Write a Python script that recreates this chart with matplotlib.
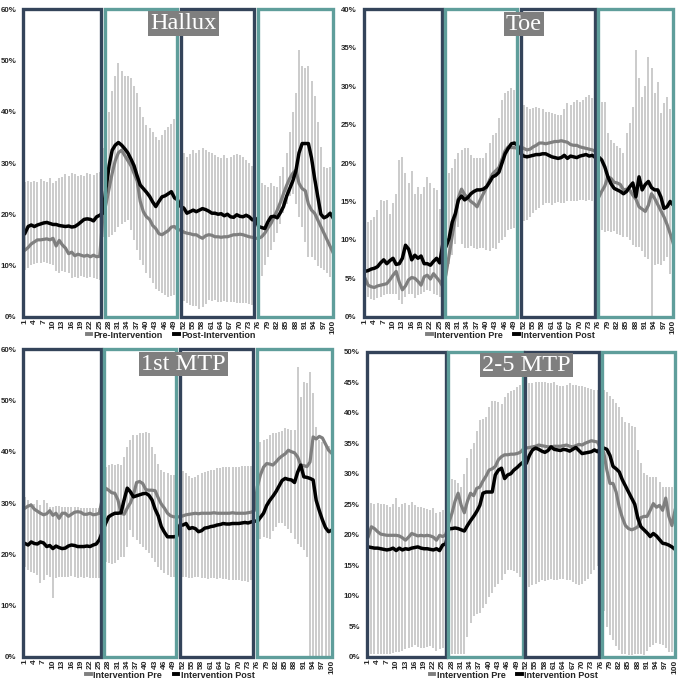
import matplotlib
matplotlib.use("Agg")
import matplotlib.pyplot as plt
from matplotlib.patches import Rectangle
from matplotlib.lines import Line2D

plt.rcParams['font.family'] = ['Liberation Sans Narrow', 'Liberation Sans', 'DejaVu Sans']

x = list(range(1, 101))
xticks = list(range(1, 101, 3))

# ---- Hallux ----
hallux_pre = [13.0, 13.5, 14.2, 14.6, 15.0, 15.0, 15.1, 15.2, 15.0, 15.3, 13.8, 14.9, 14.0, 13.4, 12.3, 12.6, 11.9, 12.2, 12.0, 11.8, 12.0, 11.7, 12.0, 11.7, 11.8,
              19.5, 22.0, 25.0, 28.0, 30.5, 32.0, 32.5, 31.5, 30.5, 29.5, 28.0, 26.5, 22.5, 20.5, 19.5, 19.0, 17.8, 17.2, 16.2, 16.0, 16.4, 16.8, 17.5, 17.6, 17.0,
              16.9, 16.5, 16.3, 16.2, 16.0, 16.0, 15.6, 15.3, 15.8, 16.0, 15.9, 15.6, 15.6, 15.5, 15.6, 15.6, 15.8, 16.0, 16.0, 16.1, 16.0, 15.8, 15.6, 15.5, 15.3,
              15.3, 15.6, 16.3, 17.3, 18.2, 19.5, 20.8, 22.3, 24.0, 25.6, 27.0, 28.0, 28.6, 26.0, 25.0, 24.6, 22.0, 20.8, 20.2, 18.9, 17.6, 16.3, 15.0, 13.7, 12.4]
hallux_post = [16.3, 17.6, 17.9, 17.6, 17.9, 18.1, 18.3, 18.4, 18.2, 18.0, 18.0, 17.8, 17.7, 17.6, 17.7, 17.5, 17.6, 18.0, 18.5, 19.0, 19.1, 19.0, 18.7, 19.5, 19.8,
               20.2, 25.0, 29.5, 32.5, 33.5, 34.0, 33.5, 32.8, 32.0, 30.8, 29.5, 27.5, 25.7, 25.0, 24.3, 23.5, 22.4, 21.5, 22.5, 23.4, 23.6, 24.0, 24.4, 23.2, 22.8,
               21.5, 21.2, 20.2, 20.5, 20.8, 20.5, 20.8, 21.1, 20.9, 20.6, 20.2, 20.2, 20.0, 20.1, 19.7, 20.0, 19.5, 19.4, 19.9, 19.6, 19.5, 19.8, 19.5, 18.9, 19.2,
               17.6, 17.4, 17.2, 18.5, 19.5, 19.6, 19.3, 20.3, 21.5, 23.5, 25.0, 26.5, 28.5, 32.0, 33.8, 33.8, 33.8, 31.0, 27.0, 23.5, 20.0, 19.3, 19.6, 20.2, 19.2]
hallux_lo = [9.1, 9.5, 10.0, 10.3, 10.4, 10.5, 10.6, 10.4, 10.2, 10.0, 9.0, 8.5, 9.0, 8.8, 8.5, 7.5, 7.8, 7.5, 8.0, 7.8, 7.5, 7.8, 7.5, 7.3, 7.2,
             15.5, 15.6, 15.6, 16.0, 16.5, 17.5, 18.0, 18.5, 18.9, 17.0, 15.0, 13.0, 11.0, 10.0, 8.5, 7.5, 6.5, 5.5, 5.0, 4.6, 4.2, 3.9, 4.0, 4.2, 4.6,
             3.9, 3.0, 2.6, 2.3, 2.0, 2.0, 1.6, 1.8, 2.5, 3.3, 3.0, 3.2, 2.9, 2.9, 3.0, 2.9, 2.9, 2.8, 2.7, 2.6, 2.6, 2.6, 2.4, 2.2, 2.0,
             6.5, 8.0, 10.0, 11.7, 13.0, 14.5, 16.3, 18.0, 20.2, 22.0, 23.5, 24.0, 22.0, 19.5, 17.6, 14.5, 11.7, 11.7, 11.0, 9.8, 9.5, 9.1, 8.5, 7.8, 7.2]
hallux_hi = [26.3, 26.4, 26.3, 26.5, 26.2, 26.8, 26.5, 26.2, 27.0, 26.0, 26.5, 27.0, 27.3, 27.8, 27.5, 28.0, 27.8, 27.5, 27.6, 27.5, 28.0, 27.8, 27.6, 28.0, 28.2,
             33.0, 38.0, 40.0, 44.0, 47.0, 49.5, 48.0, 47.0, 47.0, 46.5, 45.0, 43.6, 41.0, 39.0, 37.5, 36.8, 36.0, 35.0, 34.5, 35.5, 36.4, 37.0, 37.7, 38.5, 38.0,
             33.0, 32.0, 31.2, 31.8, 32.5, 32.0, 32.5, 33.0, 32.5, 32.2, 32.0, 31.5, 31.2, 31.0, 31.5, 31.0, 31.2, 31.5, 31.8, 31.5, 31.2, 30.5, 30.0, 29.5, 29.3,
             26.3, 26.0, 25.7, 25.4, 26.0, 25.5, 25.4, 27.5, 29.3, 32.0, 36.0, 40.0, 43.6, 52.0, 49.0, 48.5, 49.0, 46.0, 43.0, 38.0, 33.2, 29.3, 29.0, 29.3, 30.9]

# ---- Toe ----
toe_pre = [5.0, 4.1, 3.9, 3.8, 4.0, 4.1, 4.2, 4.3, 4.8, 5.4, 5.9, 4.5, 3.5, 4.0, 4.8, 5.1, 5.0, 4.6, 4.1, 5.2, 5.4, 4.9, 5.6, 5.1, 4.6,
           3.9, 5.5, 8.0, 10.5, 13.0, 15.5, 16.6, 15.9, 15.4, 15.0, 14.7, 14.3, 15.2, 16.0, 16.8, 17.8, 18.6, 19.0, 19.4, 20.5, 21.6, 22.1, 22.0, 22.0, 21.9,
           22.1, 21.9, 21.7, 21.8, 22.1, 22.3, 22.6, 22.6, 22.5, 22.6, 22.7, 22.8, 22.8, 22.9, 22.8, 22.7, 22.4, 22.3, 22.3, 22.1, 22.0, 21.9, 21.8, 21.7, 21.5,
           15.5, 16.3, 17.0, 18.2, 18.0, 17.5, 17.4, 17.2, 16.5, 16.6, 16.5, 15.8, 15.3, 14.3, 14.0, 13.7, 14.5, 16.0, 15.4, 14.6, 13.8, 13.0, 12.0, 10.8, 9.5]
toe_post = [5.9, 6.0, 6.2, 6.3, 6.5, 7.0, 7.4, 6.9, 7.3, 7.6, 6.8, 6.9, 7.6, 9.3, 8.8, 7.4, 8.0, 7.6, 7.9, 6.9, 6.9, 6.7, 7.2, 7.6, 7.0,
            9.5, 9.1, 10.2, 12.3, 13.4, 15.2, 15.7, 15.2, 15.5, 16.0, 16.3, 16.5, 16.5, 16.6, 16.9, 17.5, 18.2, 18.4, 18.8, 20.0, 21.2, 21.9, 22.5, 22.6, 22.3,
            21.2, 20.9, 20.8, 20.9, 21.0, 21.1, 21.1, 21.2, 21.2, 21.0, 20.8, 20.7, 20.6, 20.7, 21.0, 20.6, 20.9, 20.8, 20.7, 20.9, 21.0, 21.1, 20.9, 21.0, 20.7,
            20.8, 20.4, 19.5, 18.2, 17.3, 16.7, 16.5, 16.3, 16.0, 16.3, 16.9, 17.4, 15.6, 18.2, 16.5, 17.2, 17.6, 16.8, 16.5, 16.5, 15.6, 14.1, 14.3, 15.0, 14.5]
toe_lo = [2.6, 2.5, 2.3, 2.2, 2.4, 2.6, 2.8, 3.0, 3.0, 3.0, 3.0, 2.2, 1.7, 2.5, 3.0, 3.0, 2.4, 2.8, 3.0, 3.2, 3.5, 3.3, 3.0, 2.8, 2.6,
          3.0, 4.0, 6.9, 8.0, 9.5, 11.7, 9.5, 8.9, 9.0, 9.2, 8.9, 8.8, 8.9, 8.9, 8.7, 8.5, 8.9, 8.8, 9.6, 10.0, 10.4, 11.3, 11.4, 11.5, 11.5,
          13.0, 12.4, 12.6, 13.0, 13.5, 13.9, 14.2, 14.5, 14.8, 14.8, 14.5, 14.8, 14.9, 14.8, 14.8, 15.0, 15.0, 15.0, 15.0, 15.2, 15.2, 15.0, 15.2, 15.1, 15.0,
          13.4, 11.3, 11.0, 11.2, 11.0, 11.2, 10.8, 10.6, 10.4, 10.4, 10.0, 9.3, 9.1, 9.1, 8.5, 7.8, 7.5, 0.0, 6.7, 6.9, 6.7, 7.2, 7.8, 5.6, 5.2]
toe_hi = [11.7, 12.3, 12.6, 13.0, 13.9, 15.2, 15.0, 15.2, 13.4, 14.8, 16.0, 20.4, 20.8, 18.7, 17.4, 18.9, 16.0, 16.9, 16.0, 16.9, 18.2, 17.4, 16.7, 16.5, 14.0,
          17.0, 17.8, 18.7, 19.3, 20.5, 21.3, 21.7, 21.9, 21.9, 21.0, 20.6, 20.6, 20.6, 20.6, 21.3, 22.6, 23.6, 23.9, 25.8, 28.2, 29.1, 29.4, 29.7, 29.5, 29.7,
          27.8, 27.6, 27.3, 27.0, 27.1, 27.3, 27.2, 27.0, 26.7, 26.7, 26.5, 26.4, 26.2, 26.3, 27.0, 27.8, 27.6, 28.0, 28.2, 28.0, 28.2, 28.6, 28.9, 28.4, 27.8,
          28.4, 28.0, 28.0, 23.9, 23.0, 22.6, 22.2, 21.9, 21.3, 23.9, 25.2, 27.3, 34.7, 31.0, 28.6, 30.0, 33.8, 32.3, 29.1, 30.6, 26.5, 27.8, 28.6, 27.0, 26.9]

# ---- 1st MTP ----
mtp1_pre = [29.0, 29.4, 29.6, 28.8, 28.4, 28.0, 27.7, 27.9, 28.5, 27.6, 28.0, 27.0, 28.0, 28.0, 27.4, 27.8, 28.2, 28.3, 28.2, 27.8, 27.8, 28.0, 27.7, 27.8, 28.0,
            31.0, 32.9, 32.5, 32.0, 31.9, 30.6, 28.0, 27.8, 29.0, 30.0, 31.5, 34.0, 34.2, 33.8, 32.6, 32.5, 32.5, 32.4, 31.0, 29.8, 29.0, 28.0, 27.5, 27.3, 27.3,
            27.3, 27.5, 27.7, 27.8, 27.9, 28.0, 27.9, 28.0, 28.0, 28.0, 28.0, 28.1, 28.0, 28.0, 28.0, 28.0, 28.0, 28.1, 28.0, 28.0, 28.0, 28.0, 28.1, 28.2, 28.5,
            33.2, 35.5, 37.0, 37.7, 37.6, 37.4, 38.0, 38.7, 39.2, 39.6, 40.3, 40.0, 39.8, 39.0, 37.4, 37.3, 37.1, 38.0, 42.9, 42.5, 43.0, 42.7, 41.5, 40.3, 39.7]
mtp1_post = [22.1, 21.8, 22.4, 22.1, 22.0, 22.4, 22.2, 21.5, 21.7, 21.1, 21.6, 21.3, 21.1, 21.2, 21.6, 21.8, 21.7, 21.5, 21.5, 21.5, 21.6, 21.5, 21.8, 22.0, 22.8,
             24.4, 26.0, 27.3, 27.7, 28.0, 28.0, 28.1, 30.6, 32.9, 32.2, 31.2, 31.4, 31.6, 31.8, 31.9, 31.5, 30.6, 28.8, 27.5, 25.4, 24.3, 23.4, 23.4, 23.4, 23.5,
             25.7, 25.7, 26.0, 25.0, 25.2, 25.0, 24.4, 24.6, 25.1, 25.2, 25.4, 25.5, 25.7, 25.8, 26.0, 25.9, 25.9, 26.0, 26.0, 26.0, 26.1, 26.2, 26.1, 26.3, 26.5,
             26.4, 27.2, 28.0, 29.5, 30.5, 31.3, 32.2, 33.3, 34.4, 34.8, 34.6, 34.5, 34.0, 36.0, 37.4, 35.1, 35.0, 34.8, 34.5, 30.5, 28.5, 26.7, 25.2, 24.4, 24.7]
mtp1_lo = [17.6, 17.0, 16.6, 16.3, 16.0, 14.3, 15.0, 16.0, 15.5, 11.4, 15.3, 15.5, 15.6, 15.5, 15.5, 15.8, 15.5, 15.4, 15.5, 15.4, 15.5, 15.4, 15.3, 15.3, 15.3,
           18.9, 18.5, 18.2, 18.0, 18.2, 18.9, 19.5, 19.5, 21.5, 24.7, 23.4, 22.8, 22.0, 21.5, 20.8, 20.2, 19.3, 18.5, 17.6, 17.0, 16.3, 16.0, 15.6, 15.6, 15.6,
           15.6, 15.6, 15.5, 15.4, 15.3, 15.6, 15.5, 15.4, 15.3, 15.2, 15.3, 15.3, 15.2, 15.3, 15.1, 15.2, 15.0, 15.0, 14.9, 14.9, 14.8, 14.7, 14.6, 14.9, 15.6,
           22.8, 23.0, 23.4, 23.2, 23.0, 24.5, 25.4, 26.0, 26.0, 25.5, 25.0, 24.1, 23.0, 22.0, 21.5, 20.8, 19.5, 0.0, 0.0, 0.0, 0.0, 0.0, 0.0, 0.0, 0.0]
mtp1_hi = [31.2, 30.5, 30.0, 29.9, 30.5, 29.6, 30.6, 30.0, 29.3, 29.3, 29.5, 29.5, 29.3, 29.3, 29.3, 29.3, 29.2, 29.3, 29.0, 29.1, 29.0, 29.0, 29.0, 29.0, 29.0,
           35.8, 37.1, 37.5, 37.7, 37.5, 37.7, 37.5, 39.0, 41.0, 42.3, 43.3, 43.2, 43.6, 43.6, 43.9, 43.7, 41.0, 39.5, 37.7, 36.5, 36.1, 35.8, 35.5, 35.5, 35.5,
           36.4, 36.2, 35.8, 35.3, 34.8, 35.0, 35.5, 35.8, 36.1, 36.2, 36.4, 36.5, 36.8, 36.8, 37.0, 37.1, 37.0, 37.1, 37.1, 37.0, 37.2, 37.2, 37.2, 37.3, 37.4,
           41.6, 42.0, 42.3, 42.5, 43.3, 43.6, 43.7, 43.9, 44.0, 44.6, 44.4, 44.2, 44.2, 56.6, 50.7, 53.7, 53.5, 55.6, 51.4, 44.9, 42.3, 42.0, 41.6, 41.2, 41.0]

# ---- 2-5 MTP ----
mtp25_pre = [19.7, 21.3, 21.0, 20.5, 20.1, 20.0, 19.9, 19.9, 19.9, 19.9, 19.8, 19.5, 19.1, 19.6, 20.2, 20.0, 19.8, 19.9, 19.8, 19.9, 19.8, 19.6, 19.1, 19.9, 19.7,
             20.0, 22.0, 23.5, 25.5, 26.8, 24.8, 23.6, 25.5, 26.8, 26.4, 27.6, 27.8, 28.8, 29.6, 30.6, 30.8, 31.2, 32.3, 32.8, 33.1, 33.1, 33.2, 33.2, 33.3, 33.5,
             34.0, 34.2, 34.3, 34.4, 34.5, 34.7, 34.6, 34.5, 34.4, 34.4, 34.5, 34.5, 34.5, 34.6, 34.7, 34.5, 34.4, 34.6, 34.8, 34.7, 35.0, 35.2, 35.4, 35.3, 35.2,
             34.0, 33.5, 30.6, 28.4, 28.4, 27.0, 24.5, 22.8, 21.5, 21.0, 20.8, 21.0, 21.3, 22.8, 23.0, 23.0, 24.0, 25.1, 24.5, 24.8, 24.0, 26.0, 23.0, 21.5, 24.0]
mtp25_post = [18.0, 17.9, 17.8, 17.8, 17.7, 17.6, 17.5, 17.6, 17.8, 17.4, 17.8, 17.5, 17.7, 17.6, 17.8, 17.9, 18.0, 17.8, 17.7, 17.7, 17.6, 17.5, 17.7, 17.4, 18.3,
              18.5, 21.0, 21.0, 21.1, 21.0, 20.8, 20.6, 21.5, 22.3, 23.0, 23.8, 24.8, 26.8, 27.0, 27.0, 27.0, 29.8, 30.6, 30.9, 29.2, 29.8, 30.0, 30.6, 31.0, 31.5,
              31.9, 31.7, 33.0, 33.9, 34.2, 34.0, 33.7, 33.5, 33.8, 34.4, 34.0, 33.9, 33.8, 34.0, 33.9, 33.7, 34.0, 34.3, 33.8, 33.3, 33.4, 33.5, 33.6, 33.9, 33.6,
              34.2, 34.2, 34.0, 33.0, 31.2, 30.8, 30.3, 29.0, 28.0, 27.0, 26.0, 25.0, 22.7, 21.3, 20.8, 20.3, 19.7, 20.2, 19.8, 19.2, 18.6, 18.5, 18.3, 18.0, 17.6]
mtp25_lo = [0.5, 0.5, 0.5, 0.5, 0.5, 0.5, 0.5, 0.5, 0.6, 0.8, 0.8, 1.0, 1.2, 1.4, 1.6, 1.9, 1.6, 1.4, 1.5, 1.6, 1.7, 1.4, 1.0, 1.2, 1.4,
            0.5, 0.5, 0.5, 0.5, 0.5, 0.5, 0.5, 3.3, 5.5, 6.6, 7.0, 7.1, 8.0, 8.7, 9.8, 10.5, 11.5, 12.0, 12.6, 13.5, 14.2, 14.2, 14.0, 13.8, 13.1,
            13.7, 12.6, 11.5, 11.8, 12.0, 12.2, 12.5, 12.4, 12.6, 12.8, 12.5, 12.6, 12.8, 12.7, 12.6, 12.5, 12.3, 12.0, 11.7, 12.0, 12.4, 12.8, 13.5, 14.2, 14.8,
            10.9, 7.5, 4.9, 3.5, 2.7, 1.8, 1.1, 0.5, 0.4, 0.3, 0.3, 0.4, 0.5, 0.4, 0.3, 1.0, 1.6, 2.0, 2.2, 2.1, 1.9, 1.5, 0.8, 0.7, 4.9]
mtp25_hi = [25.7, 25.2, 25.1, 25.2, 25.0, 25.0, 24.8, 24.6, 25.0, 26.0, 24.6, 25.0, 25.2, 24.8, 25.3, 24.9, 24.5, 24.6, 24.3, 24.2, 24.0, 24.3, 23.5, 23.8, 24.0,
            27.0, 29.5, 29.2, 29.0, 28.5, 27.9, 30.0, 32.5, 34.0, 35.0, 37.0, 38.8, 39.0, 39.3, 41.0, 42.0, 42.0, 41.8, 41.5, 42.5, 43.2, 43.5, 43.7, 44.2, 44.5,
            44.3, 44.5, 44.8, 44.8, 45.0, 45.1, 45.1, 45.0, 44.9, 44.8, 45.0, 44.6, 44.3, 44.3, 44.6, 44.8, 44.5, 44.5, 44.3, 44.4, 44.2, 44.0, 43.9, 43.7, 43.7,
            44.3, 43.8, 43.4, 42.8, 42.3, 41.6, 41.0, 39.3, 38.5, 38.3, 37.9, 37.7, 33.9, 31.7, 30.1, 29.8, 29.5, 29.5, 29.5, 28.7, 27.9, 27.9, 27.9, 27.9, 26.9]

W, H = 685, 683
NAVY = '#34445a'
TEAL = '#5f9e9b'
PRE_C = '#7f7f7f'
BAR_C = '#cbcbcb'

# title, data, y max, y step, legend labels, pixel frame (x of pt 1, x of pt 100, y of 0, y of top), phase boxes, title centre
panels = [
    ("Hallux", hallux_pre, hallux_post, hallux_lo, hallux_hi, 60, 10,
     ("Pre-Intervention", "Post-Intervention"), (25, 333.3, 316.7, 9.3),
     [(0.46, 25.4), (26.7, 49.7), (51.0, 74.6), (75.7, 99.8)], (183.5, 23.7)),
    ("Toe", toe_pre, toe_post, toe_lo, toe_hi, 40, 5,
     ("Intervention Pre", "Intervention Post"), (365, 673.3, 316.7, 9.3),
     [(0.7, 25.6), (26.7, 49.9), (51.1, 74.9), (75.7, 100.0)], (524, 24)),
    ("1st MTP", mtp1_pre, mtp1_post, mtp1_lo, mtp1_hi, 60, 10,
     ("Intervention Pre", "Intervention Post"), (25, 331.7, 656.7, 349.3),
     [(0.46, 25.5), (26.6, 49.8), (51.1, 74.7), (76.0, 100.2)], (183.5, 364)),
    ("2-5 MTP", mtp25_pre, mtp25_post, mtp25_lo, mtp25_hi, 50, 5,
     ("Intervention Pre", "Intervention Post"), (368.3, 675, 656.7, 351.7),
     [(0.46, 26.1), (26.8, 50.8), (51.6, 75.5), (76.3, 100.0)], (526.5, 365)),
]

fig = plt.figure(figsize=(W / 100, H / 100), dpi=100)

for title, pre, post, lo, hi, ymax, ystep, labels, frame, boxes, tpos in panels:
    x1, x100, y0, ytop = frame
    ppt = (x100 - x1) / 99
    left = x1 - 0.7 * ppt
    right = x100 + 0.6 * ppt
    ax = fig.add_axes([left / W, 1 - y0 / H, (right - left) / W, (y0 - ytop) / H])
    ax.set_xlim(0.3, 100.6)
    ax.set_ylim(0, ymax)

    ax.vlines(x, lo, hi, color=BAR_C, lw=1.4, zorder=1)
    ax.plot(x, pre, color=PRE_C, lw=2.3, zorder=2, solid_joinstyle='round')
    ax.plot(x, post, color='black', lw=2.5, zorder=3, solid_joinstyle='round')

    for i, (a, b) in enumerate(boxes):
        ax.add_patch(Rectangle((a, 0), b - a, ymax, fill=False,
                               edgecolor=NAVY if i % 2 == 0 else TEAL,
                               lw=2.4, zorder=4, clip_on=False))

    for s in ax.spines.values():
        s.set_visible(False)
    yt = list(range(0, ymax + 1, ystep))
    ax.set_yticks(yt)
    ax.set_yticklabels([f"{v}%" for v in yt], fontsize=5.7, fontweight='bold', color='#262626')
    ax.set_xticks(xticks)
    ax.set_xticklabels([str(v) for v in xticks], rotation=90, fontsize=6,
                       fontweight='bold', color='#262626')
    ax.tick_params(axis='y', length=0, pad=4.5)
    ax.tick_params(axis='x', length=0, pad=2)

    handles = [Line2D([], [], color=PRE_C, lw=2.8), Line2D([], [], color='black', lw=2.8)]
    ax.legend(handles, labels, loc='center', bbox_to_anchor=(0.475, -0.06), ncol=2,
              frameon=False, handlelength=0.5, handletextpad=0.25, columnspacing=1.3,
              prop={'size': 6.5, 'weight': 'bold'}, labelcolor='#262626', borderpad=0)

    fig.text(tpos[0] / W, 1 - tpos[1] / H, title, ha='center', va='center',
             family='Liberation Serif', fontsize=17.5, color='white', zorder=10,
             bbox=dict(boxstyle='square,pad=0.08', facecolor='#7f7f7f', edgecolor='none'))

fig.savefig("out.png", dpi=100)
